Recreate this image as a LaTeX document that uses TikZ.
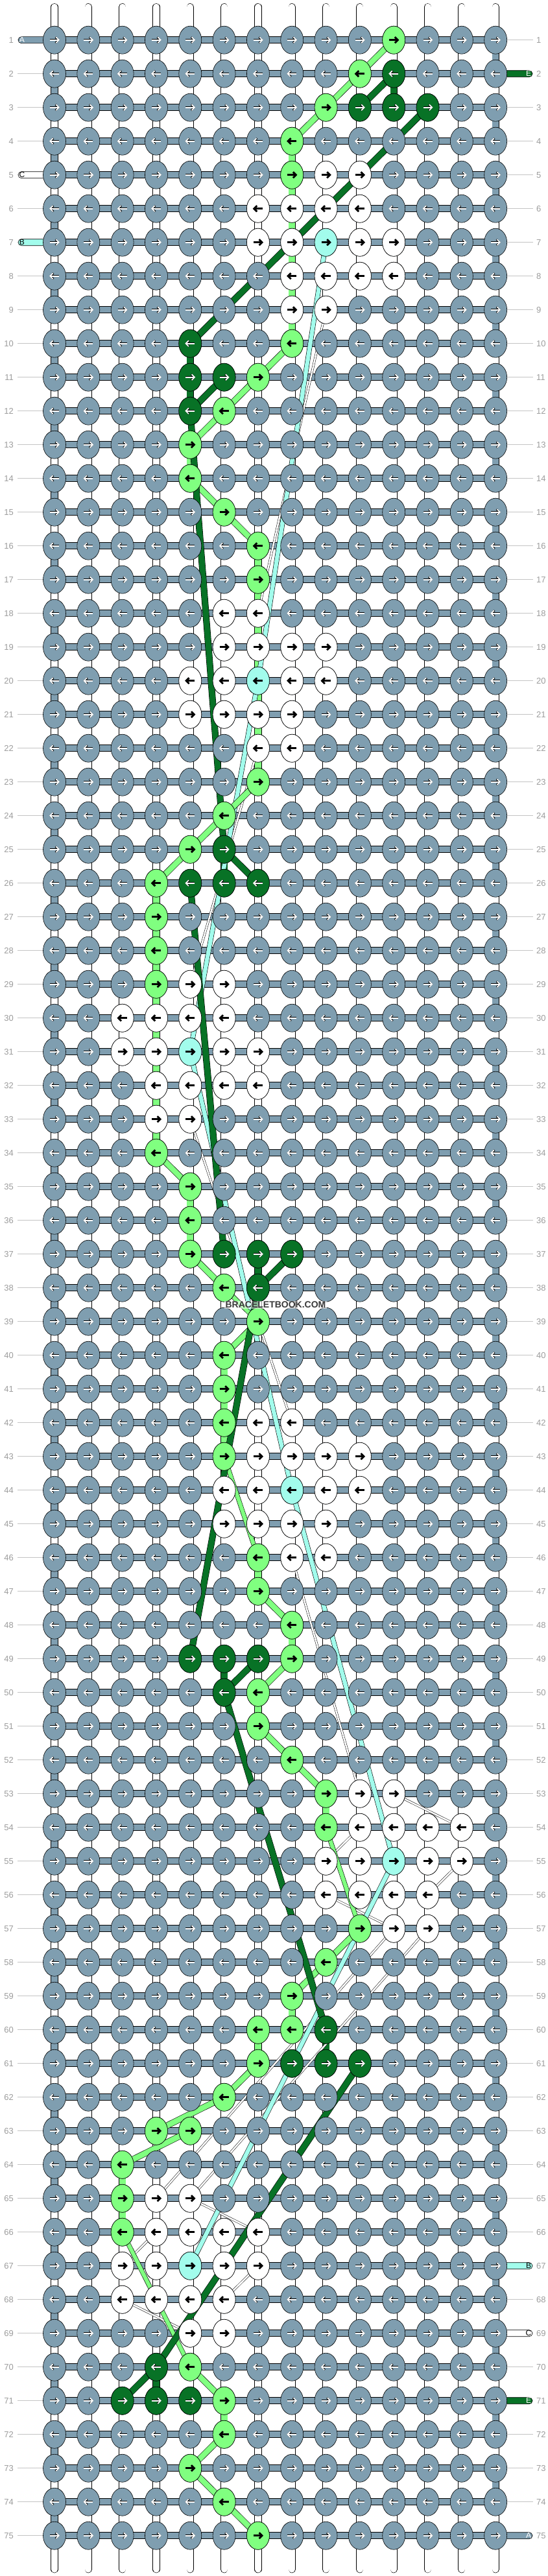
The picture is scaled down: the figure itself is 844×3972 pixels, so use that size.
\documentclass[tikz,border=0pt]{standalone}
\usepackage{fontspec}
\setmainfont{Liberation Sans}
\usetikzlibrary{shapes.geometric,arrows.meta,backgrounds}

\definecolor{knotblue}{HTML}{7F9EB0}
\definecolor{lgreen}{HTML}{80FF80}
\definecolor{dgreen}{HTML}{087226}
\definecolor{aqua}{HTML}{A2FCEC}
\definecolor{lblgray}{HTML}{9C9C9C}
\definecolor{rulegray}{HTML}{C4C4C4}
\definecolor{wmgray}{HTML}{3A3A3A}

\tikzset{
  knot/.style={ellipse,draw=black,line width=0.6pt,fill=knotblue,minimum width=35pt,minimum height=43pt,inner sep=0pt},
  lg/.style={fill=lgreen}, dg/.style={fill=dgreen}, wh/.style={fill=white}, aq/.style={fill=aqua},
  karw/.style={-{Straight Barb[length=4.5pt,width=9pt]}},
  rowbar/.style={draw=black,line width=0.6pt,fill=knotblue},
  link/.style={draw=black,line width=0.6pt,double=#1,double distance=10pt},
  thread/.style={draw=black,line width=0.6pt,double=white,double distance=10pt,line cap=round},
  lgpath/.style={draw=black,line width=0.6pt,double=lgreen,double distance=8.5pt},
  lglong/.style={draw=black,line width=0.6pt,double=lgreen,double distance=6pt},
  dgpath/.style={draw=black,line width=0.6pt,double=dgreen,double distance=9pt},
  aqpath/.style={draw=black,line width=0.6pt,double=aqua,double distance=6.5pt},
  whpath/.style={draw=black,line width=0.5pt,double=white,double distance=2.5pt},
  rowlbl/.style={text=lblgray,font=\fontsize{13}{13}\selectfont,inner sep=0pt},
  stub/.style={draw=black,line width=0.6pt,rounded corners=5pt},
  stublbl/.style={font=\fontsize{12}{12}\selectfont,inner sep=0pt},
}

% arrow in a knot: row, column, colour
\newcommand{\karrow}[3]{%
  \ifodd#1\relax\def\ka{-7pt}\def\kb{8pt}\else\def\ka{7pt}\def\kb{-8pt}\fi
  \draw[karw,line width=2.7pt,black] ([xshift=\ka]k-#1-#2.center) -- ([xshift=\kb]k-#1-#2.center);
  \draw[karw,line width=1.7pt,#3] ([xshift=\ka]k-#1-#2.center) -- ([xshift=\kb]k-#1-#2.center);}

\begin{document}
\begin{tikzpicture}[x=1pt,y=-1pt]
\useasboundingbox (0,0) rectangle (844,3972);

% knots
\foreach \r in {1,...,75}{
  \foreach \c in {1,...,14}{
    \node[knot] (k-\r-\c) at ({31.68+52.32*\c},{9.7+52*\r}) {};
    \karrow{\r}{\c}{white}
  }
  \node[rowlbl,anchor=east] (ll-\r) at (21,{9.7+52*\r}) {\r};
  \node[rowlbl,anchor=west] (rl-\r) at (827,{9.7+52*\r}) {\r};
}

% dark green knots
\foreach \r/\c in {2/11,3/10,3/11,3/12,10/5,11/5,11/6,12/5,25/6,26/5,26/6,26/7,
  37/6,37/7,37/8,38/7,49/5,49/6,49/7,50/6,60/9,61/8,61/9,61/10,70/4,71/3,71/4,71/5}{
  \node[knot,dg] (k-\r-\c) at (k-\r-\c.center) {};
  \karrow{\r}{\c}{white}
}

% light knots
\foreach \r/\c/\s in {1/11/lg,2/10/lg,3/9/lg,4/8/lg,5/8/lg,5/9/wh,5/10/wh,
  6/7/wh,6/8/wh,6/9/wh,6/10/wh,7/7/wh,7/8/wh,7/9/aq,7/10/wh,7/11/wh,
  8/8/wh,8/9/wh,8/10/wh,8/11/wh,9/8/wh,9/9/wh,10/8/lg,11/7/lg,12/6/lg,
  13/5/lg,14/5/lg,15/6/lg,16/7/lg,17/7/lg,18/6/wh,18/7/wh,
  19/6/wh,19/7/wh,19/8/wh,19/9/wh,20/5/wh,20/6/wh,20/7/aq,20/8/wh,20/9/wh,
  21/5/wh,21/6/wh,21/7/wh,21/8/wh,22/7/wh,22/8/wh,23/7/lg,24/6/lg,25/5/lg,
  26/4/lg,27/4/lg,28/4/lg,29/4/lg,29/5/wh,29/6/wh,
  30/3/wh,30/4/wh,30/5/wh,30/6/wh,31/3/wh,31/4/wh,31/5/aq,31/6/wh,31/7/wh,
  32/4/wh,32/5/wh,32/6/wh,32/7/wh,33/4/wh,33/5/wh,
  34/4/lg,35/5/lg,36/5/lg,37/5/lg,38/6/lg,39/7/lg,40/6/lg,41/6/lg,
  42/6/lg,42/7/wh,42/8/wh,43/6/lg,43/7/wh,43/8/wh,43/9/wh,43/10/wh,
  44/6/wh,44/7/wh,44/8/aq,44/9/wh,44/10/wh,45/6/wh,45/7/wh,45/8/wh,45/9/wh,
  46/7/lg,46/8/wh,46/9/wh,47/7/lg,48/8/lg,49/8/lg,50/7/lg,51/7/lg,52/8/lg,
  53/9/lg,53/10/wh,53/11/wh,54/9/lg,54/10/wh,54/11/wh,54/12/wh,54/13/wh,
  55/9/wh,55/10/wh,55/11/aq,55/12/wh,55/13/wh,56/9/wh,56/10/wh,56/11/wh,56/12/wh,
  57/10/lg,57/11/wh,57/12/wh,58/9/lg,59/8/lg,60/7/lg,60/8/lg,61/7/lg,62/6/lg,
  63/4/lg,63/5/lg,64/3/lg,65/3/lg,65/4/wh,65/5/wh,
  66/3/lg,66/4/wh,66/5/wh,66/6/wh,66/7/wh,67/3/wh,67/4/wh,67/5/aq,67/6/wh,67/7/wh,
  68/3/wh,68/4/wh,68/5/wh,68/6/wh,69/5/wh,69/6/wh,
  70/5/lg,71/6/lg,72/6/lg,73/5/lg,74/6/lg,75/7/lg}{
  \node[knot,\s] (k-\r-\c) at (k-\r-\c.center) {};
  \karrow{\r}{\c}{black}
}

\begin{scope}[on background layer]
  % hanging threads
  \foreach \c in {1,...,14}{
    \draw[thread] (k-1-\c.center) -- ++(0,-51);
    \draw[thread] (k-75-\c.center) -- ++(0,52);
  }
  % links between rows
  \foreach \r [remember=\r as \p (initially 1)] in {2,...,75}{
    \foreach \c in {1,...,14}{\draw[link=white] (k-\p-\c.center) -- (k-\r-\c.center);}
    \ifodd\p \draw[link=knotblue] (k-\p-14.center) -- (k-\r-14.center);
    \else \draw[link=knotblue] (k-\p-1.center) -- (k-\r-1.center);\fi
  }
  \foreach \r/\c/\col in {4/8/lgreen,5/8/lgreen,6/8/lgreen,7/8/lgreen,8/8/lgreen,9/8/lgreen,
    13/5/lgreen,16/7/lgreen,17/7/lgreen,18/7/lgreen,19/7/lgreen,20/7/lgreen,21/7/lgreen,22/7/lgreen,
    26/4/lgreen,27/4/lgreen,28/4/lgreen,29/4/lgreen,30/4/lgreen,31/4/lgreen,32/4/lgreen,33/4/lgreen,
    35/5/lgreen,36/5/lgreen,40/6/lgreen,41/6/lgreen,42/6/lgreen,46/7/lgreen,48/8/lgreen,50/7/lgreen,
    53/9/lgreen,59/8/lgreen,60/7/lgreen,64/3/lgreen,65/3/lgreen,71/6/lgreen,
    2/11/dgreen,10/5/dgreen,11/5/dgreen,25/6/dgreen,37/7/dgreen,49/6/dgreen,60/9/dgreen,70/4/dgreen}{
    \pgfmathtruncatemacro\rn{\r+1}
    \draw[link=\col] (k-\r-\c.center) -- (k-\rn-\c.center);
  }
  % label rules and rows
  \foreach \r in {1,...,75}{
    \draw[rulegray,line width=0.8pt] ([xshift=6pt]ll-\r.east) -- (k-\r-1.center);
    \draw[rulegray,line width=0.8pt] (k-\r-14.center) -- ([xshift=-5pt]rl-\r.west);
    \path[rowbar] ([yshift=5pt]k-\r-1.center) rectangle ([yshift=-5pt]k-\r-14.center);
  }
  % strand ends
  \foreach \r/\l/\f/\t in {1/A/knotblue/white,5/C/white/black,7/B/aqua/black}{
    \path[stub,fill=\f] ([yshift=5pt]k-\r-1.center) rectangle ([xshift=7pt,yshift=-5pt]ll-\r.east);
    \node[stublbl,text=\t] (in-\r) at ([xshift=13pt]ll-\r.east) {\l};
  }
  \foreach \r/\l/\f/\t in {2/E/dgreen/white,67/B/aqua/black,69/C/white/black,71/E/dgreen/white,75/A/knotblue/white}{
    \path[stub,fill=\f] ([yshift=5pt]k-\r-14.center) rectangle ([xshift=-6pt,yshift=-5pt]rl-\r.west);
    \node[stublbl,text=\t] (out-\r) at ([xshift=-12pt]rl-\r.west) {\l};
  }

  % white strands
  \draw[whpath] (k-9-9.center) -- (k-18-7.center);
  \draw[whpath] (k-22-7.center) -- (k-29-5.center);
  \draw[whpath] (k-33-5.center) -- (k-42-8.center);
  \draw[whpath] (k-46-8.center) -- (k-53-10.center);
  \draw[whpath] (k-53-11.center) -- (k-54-13.center);
  \draw[whpath] (k-54-10.center) -- (k-55-9.center);
  \draw[whpath] (k-55-13.center) -- (k-56-12.center);
  \draw[whpath] (k-56-9.center) -- (k-57-11.center);
  \draw[whpath] (k-57-12.center) -- (k-65-5.center);
  \draw[whpath] (k-57-11.center) -- (k-65-4.center);
  \draw[whpath] (k-65-5.center) -- (k-66-7.center);
  \draw[whpath] (k-66-4.center) -- (k-67-3.center);
  \draw[whpath] (k-67-7.center) -- (k-68-6.center);
  \draw[whpath] (k-68-3.center) -- (k-69-5.center);

  % aqua strand
  \draw[aqpath] (k-7-9.center) -- (k-20-7.center) -- (k-31-5.center) -- (k-44-8.center)
    -- (k-55-11.center) -- (k-67-5.center);

  % light green strand
  \draw[lgpath] (k-1-11.center) -- (k-2-10.center) -- (k-3-9.center) -- (k-4-8.center);
  \draw[lgpath] (k-10-8.center) -- (k-11-7.center) -- (k-12-6.center) -- (k-13-5.center);
  \draw[lgpath] (k-14-5.center) -- (k-15-6.center) -- (k-16-7.center);
  \draw[lgpath] (k-23-7.center) -- (k-24-6.center) -- (k-25-5.center) -- (k-26-4.center);
  \draw[lgpath] (k-34-4.center) -- (k-35-5.center);
  \draw[lgpath] (k-37-5.center) -- (k-38-6.center);
  \draw[lglong] (k-38-6.center) -- (k-39-7.center);
  \draw[lgpath] (k-39-7.center) -- (k-40-6.center);
  \draw[lglong] (k-43-6.center) -- (k-46-7.center);
  \draw[lgpath] (k-47-7.center) -- (k-48-8.center);
  \draw[lgpath] (k-49-8.center) -- (k-50-7.center);
  \draw[lgpath] (k-51-7.center) -- (k-52-8.center) -- (k-53-9.center);
  \draw[lglong] (k-54-9.center) -- (k-57-10.center);
  \draw[lgpath] (k-57-10.center) -- (k-58-9.center) -- (k-59-8.center);
  \draw[lgpath] (k-61-7.center) -- (k-62-6.center) -- (k-63-4.center);
  \draw[lgpath] (k-63-5.center) -- (k-64-3.center);
  \draw[lglong] (k-66-3.center) -- (k-70-5.center);
  \draw[lgpath] (k-70-5.center) -- (k-71-6.center);
  \draw[lgpath] (k-72-6.center) -- (k-73-5.center) -- (k-74-6.center) -- (k-75-7.center);

  % dark green strand
  \draw[dgpath] (k-2-11.center) -- (k-3-10.center);
  \draw[dgpath] (k-3-12.center) -- (k-10-5.center);
  \draw[dgpath] (k-11-6.center) -- (k-12-5.center) -- (k-25-6.center) -- (k-26-7.center);
  \draw[dgpath] (k-26-5.center) -- (k-37-6.center);
  \draw[dgpath] (k-37-8.center) -- (k-38-7.center) -- (k-49-5.center);
  \draw[dgpath] (k-49-7.center) -- (k-50-6.center) -- (k-60-9.center);
  \draw[dgpath] (k-61-10.center) -- (k-70-4.center) -- (k-71-3.center);
\end{scope}

\node[font=\fontsize{14}{14}\selectfont\bfseries,text=wmgray,fill=white,fill opacity=0.55,text opacity=1,inner sep=1.5pt] (wm) at (425,2012) {BRACELETBOOK.COM};
\end{tikzpicture}
\end{document}
